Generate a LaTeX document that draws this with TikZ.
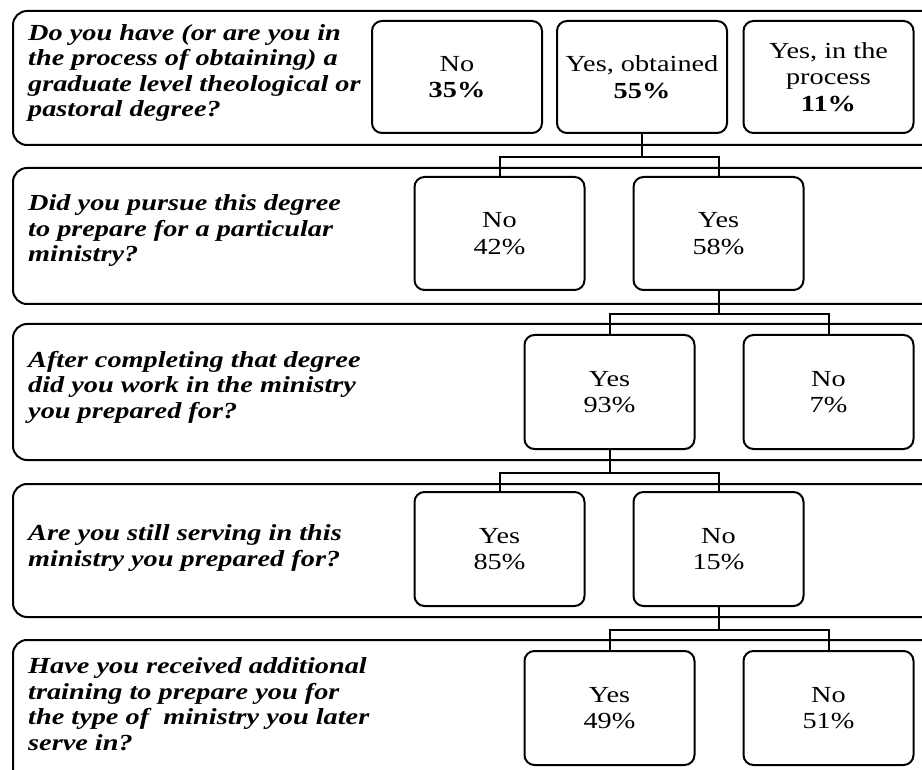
\documentclass[tikz,border=0pt]{standalone}
\usepackage{fontspec}
\setmainfont{Liberation Serif}[FakeStretch=1.23]
\newcommand\qfnt{\fontsize{23}{25.5}\selectfont\bfseries\itshape}
\newcommand\bfnt{\fontsize{23}{26.5}\selectfont}
\begin{document}
\begin{tikzpicture}[x=1pt,y=-1pt,
  panel/.style={draw, line width=2pt, rounded corners=14pt, anchor=north west, minimum width=930pt, inner sep=0pt},
  box/.style={draw, line width=2pt, rounded corners=10pt, minimum width=170pt, align=center, font=\bfnt, inner sep=0pt, fill=white},
  qtext/.style={anchor=west, align=left, font=\qfnt, inner sep=0pt},
  conn/.style={line width=2pt}]
\clip (0,0) rectangle (922,770);
\fill[white] (0,0) rectangle (922,770);
% panels
\node[panel, minimum height=134pt] (p1) at (12,10) {};
\node[panel, minimum height=136pt] (p2) at (12,167) {};
\node[panel, minimum height=136pt] (p3) at (12,323) {};
\node[panel, minimum height=133pt] (p4) at (12,483) {};
\node[panel, minimum height=150pt] (p5) at (12,639) {};
% questions
\node[qtext] (q1) at (28,73) {Do you have (or are you in\\the process of obtaining) a\\graduate level theological or\\pastoral degree?};
\node[qtext] (q2) at (28,231) {Did you pursue this degree\\to prepare for a particular\\ministry?};
\node[qtext] (q3) at (28,387) {After completing that degree\\did you work in the ministry\\you prepared for?};
\node[qtext] (q4) at (28,548) {Are you still serving in this\\ministry you prepared for?};
\node[qtext] (q5) at (28,704) {Have you received additional\\training to prepare you for\\the type of\ \ ministry you later\\serve in?};
% row 1
\node[box, minimum height=112pt] (a1) at (457,77) {No\\\textbf{35\%}};
\node[box, minimum height=112pt] (a2) at (642,77) {Yes, obtained\\\textbf{55\%}};
\node[box, minimum height=112pt] (a3) at (828.5,77) {Yes, in the\\process\\\textbf{11\%}};
% row 2
\node[box, minimum height=113pt] (b1) at (499.5,233.5) {No\\42\%};
\node[box, minimum height=113pt] (b2) at (718.5,233.5) {Yes\\58\%};
% row 3
\node[box, minimum height=114pt] (c1) at (609.5,392) {Yes\\93\%};
\node[box, minimum height=114pt] (c2) at (828.5,392) {No\\7\%};
% row 4
\node[box, minimum height=114pt] (d1) at (499.5,549) {Yes\\85\%};
\node[box, minimum height=114pt] (d2) at (718.5,549) {No\\15\%};
% row 5
\node[box, minimum height=114pt] (e1) at (609.5,708) {Yes\\49\%};
\node[box, minimum height=114pt] (e2) at (828.5,708) {No\\51\%};
% connectors
\draw[conn] (a2.south) -- ++(0,23) coordinate (j1);
\draw[conn] (b1.north) |- (j1) -| (b2.north);
\draw[conn] (b2.south) -- ++(0,23) coordinate (j2);
\draw[conn] (c1.north) |- (j2) -| (c2.north);
\draw[conn] (c1.south) -- ++(0,23) coordinate (j3);
\draw[conn] (d1.north) |- (j3) -| (d2.north);
\draw[conn] (d2.south) -- ++(0,23) coordinate (j4);
\draw[conn] (e1.north) |- (j4) -| (e2.north);
\end{tikzpicture}
\end{document}
